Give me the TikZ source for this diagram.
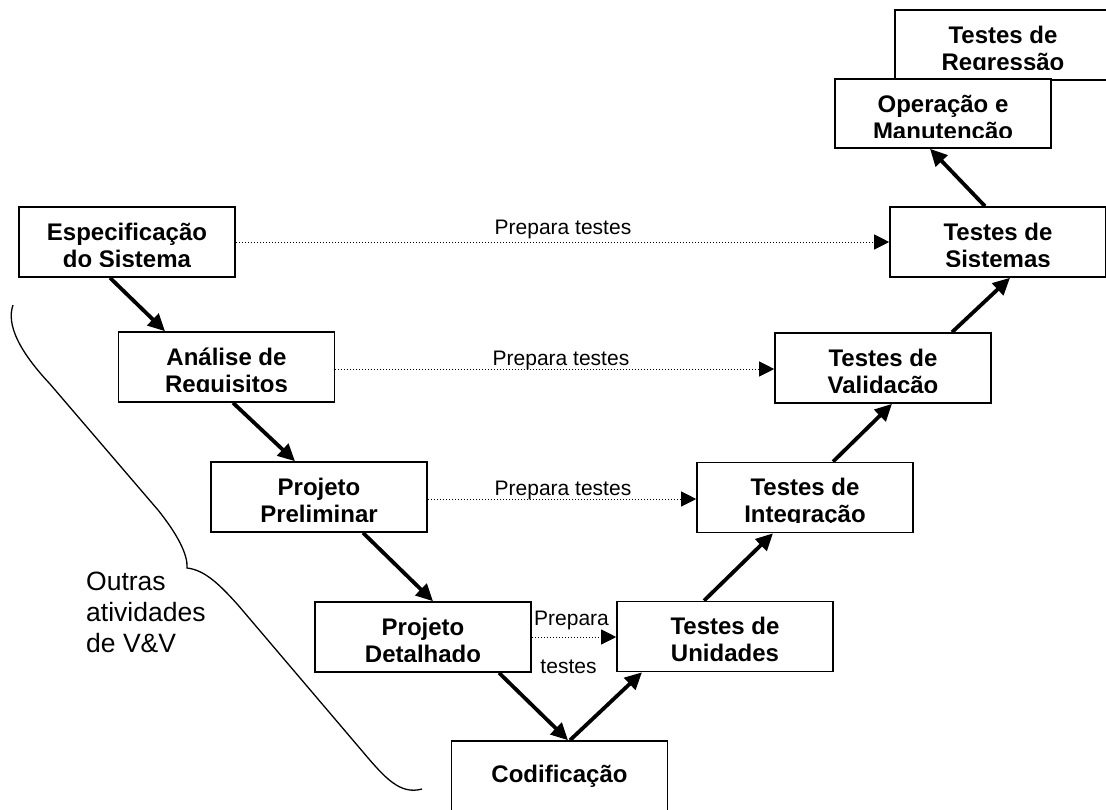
\documentclass[tikz,border=0pt]{standalone}
\usepackage{fontspec}
\setmainfont{Liberation Sans}
\usetikzlibrary{arrows.meta}

% two centred lines; the box baseline is the first line's baseline
\newcommand\twolines[2]{\vtop{\tabskip=0pt\halign{\hfil##\hfil\cr #1\cr #2\cr}}}
\newcommand\leftlines[3]{\vtop{\tabskip=0pt\halign{##\hfil\cr #1\cr #2\cr #3\cr}}}
\newcommand\stagefont{\bfseries\fontsize{24}{27}\selectfont}

\tikzset{
  stage/.style n args={3}{draw, line width=1.6pt, fill=white,
    minimum width=216pt, minimum height=70pt, inner sep=0pt,
    path picture={
      \clip ([yshift=-1pt]path picture bounding box.north west)
        rectangle ([yshift=10.5pt]path picture bounding box.south east);
      \node[anchor=base, inner sep=0pt, font=\stagefont]
        at ([yshift=-#3]path picture bounding box.north) {\twolines{#1}{#2}};
    }},
  flow/.style={line width=3.8pt, -{Triangle[length=17pt,width=16pt]}},
  prep/.style={line width=1pt, dash pattern=on 1pt off 2pt,
    -{Triangle[length=15pt,width=15pt]}},
  preplabel/.style={anchor=base, inner sep=0pt,
    font=\fontsize{21}{24}\selectfont},
}

\begin{document}
\begin{tikzpicture}[x=1pt, y=-1pt]
  \useasboundingbox (0,0) rectangle (1106,809);
  \clip (0,0) rectangle (1106,809);

  % left branch of the V
  \node[stage={Especificação}{do Sistema}{33pt}] (espec) at (127,242) {};
  \node[stage={Análise de}{Requisitos}{33pt}] (anal) at (226.5,367) {};
  \node[stage={Projeto}{Preliminar}{33pt}] (prelim) at (319,497) {};
  \node[stage={Projeto}{Detalhado}{33pt}] (detal) at (423,637) {};
  \node[stage={Codificação}{}{41pt}] (codif) at (559.5,776) {};

  % right branch of the V
  \node[stage={Testes de}{Unidades}{33pt}] (unid) at (725,636.5) {};
  \node[stage={Testes de}{Integração}{33pt}] (integ) at (805,497.5) {};
  \node[stage={Testes de}{Validação}{33pt}] (valid) at (883,368) {};
  \node[stage={Testes de}{Sistemas}{33pt}] (sist) at (998,242) {};
  \node[stage={Testes de}{Regressão}{33pt}] (regr) at (1003,45) {};
  \node[stage={Operação e}{Manutenção}{33pt}, minimum height=69pt] (oper) at (943,113.5) {};

  % development flow
  \draw[flow] ([xshift=-17pt]espec.south) -- ([xshift=-61.5pt]anal.north);
  \draw[flow] ([xshift=6.5pt]anal.south) -- ([xshift=-24pt]prelim.north);
  \draw[flow] ([xshift=44pt]prelim.south) -- ([xshift=10pt]detal.north);
  \draw[flow] ([xshift=76pt]detal.south) -- ([xshift=8.5pt]codif.north);
  \draw[flow] ([xshift=10.5pt]codif.north) -- ([xshift=-83pt]unid.south);
  \draw[flow] ([xshift=-21pt]unid.north) -- ([xshift=-32pt]integ.south);
  \draw[flow] ([xshift=28pt]integ.north) -- ([xshift=9pt]valid.south);
  \draw[flow] ([xshift=69pt]valid.north) -- ([xshift=12pt]sist.south);
  \draw[flow] ([xshift=-13pt]sist.north) -- ([xshift=-13pt]oper.south);

  % test preparation links
  \draw[prep] (espec.east) -- (espec.east -| sist.west);
  \draw[prep] ([yshift=-2pt]anal.east) -- ([yshift=-2pt]anal.east -| valid.west);
  \draw[prep] ([yshift=-2pt]prelim.east) -- ([yshift=-2pt]prelim.east -| integ.west);
  \draw[prep] (detal.east) -- (detal.east -| unid.west);

  \node[preplabel] (lbla) at (563,234) {Prepara testes};
  \node[preplabel] (lblb) at (561,365) {Prepara testes};
  \node[preplabel] (lblc) at (563,495) {Prepara testes};
  \node[preplabel] (lbld) at (571.5,625) {Prepara};
  \node[preplabel] (lble) at (568.5,673) {testes};

  % brace grouping the other V&V activities
  \draw[line width=1.3pt]
    (13,305) .. controls (6,325) and (20,352) .. (50,384)
    -- (158,510) .. controls (178,535) and (188,555) .. (187,568)
    .. controls (205,570) and (220,585) .. (238,605)
    -- (363,752) .. controls (385,778) and (400,795) .. (422,789);
  \node[anchor=base west, inner sep=0pt, font=\fontsize{26.5}{31}\selectfont]
    (outras) at (86,590) {\leftlines{Outras}{atividades}{de V\&V}};
\end{tikzpicture}
\end{document}
